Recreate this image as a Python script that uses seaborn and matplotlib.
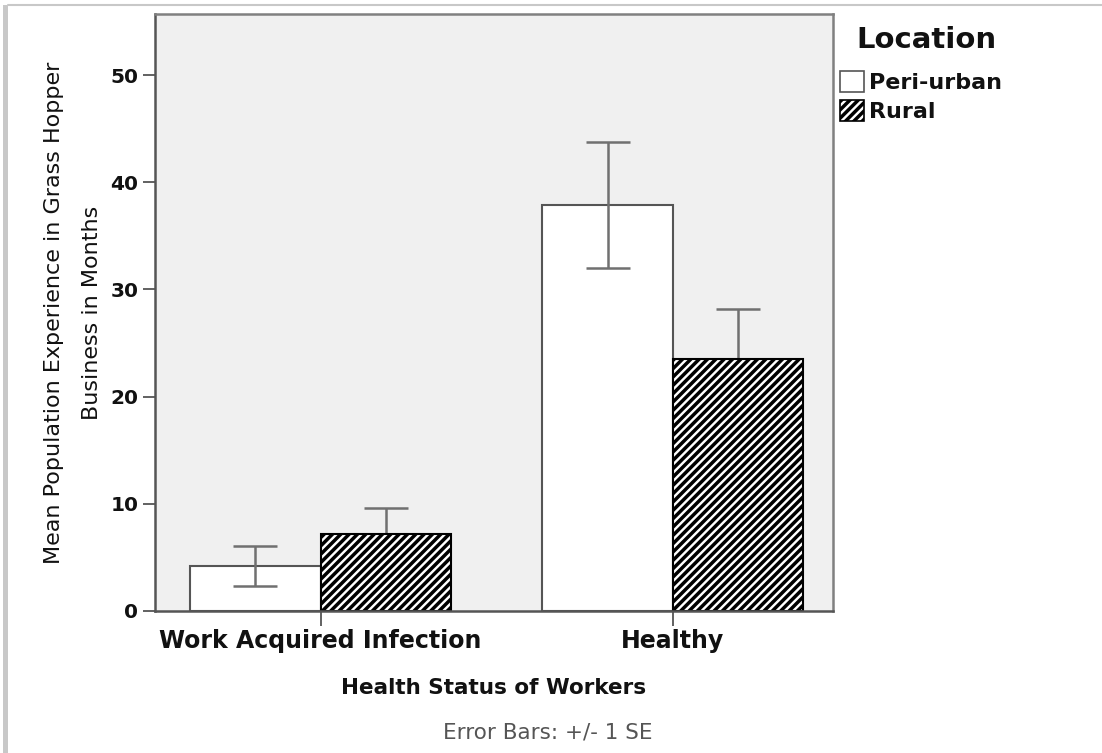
import numpy as np
import pandas as pd
import matplotlib
matplotlib.use("Agg")
import matplotlib.pyplot as plt
import seaborn as sns
from matplotlib.patches import Patch, Rectangle
from matplotlib.lines import Line2D

status=["Work Acquired Infection", "Healthy"]
locations=["Peri-urban", "Rural"]
peri_mean=[4.2, 37.9]
peri_se=[1.9, 5.9]
rural_mean=[7.2, 23.5]
rural_se=[2.4, 4.7]

df=pd.DataFrame({
    "status": status*2,
    "location": [locations[0]]*2+[locations[1]]*2,
    "mean": peri_mean+rural_mean,
    "se": peri_se+rural_se,
})

sns.set_style("white")
plt.rcParams["font.family"]=["DejaVu Sans"]
plt.rcParams["hatch.linewidth"]=2.5
plt.rcParams["text.color"]="#111111"
plt.rcParams["axes.labelcolor"]="#111111"
plt.rcParams["xtick.labelcolor"]="#111111"
plt.rcParams["ytick.labelcolor"]="#111111"

fig=plt.figure(figsize=(11.02,7.53), dpi=100)
ax=fig.add_axes([0.1407, 0.1886, 0.6152, 0.7928])
ax.set_facecolor("#f0f0f0")

sns.barplot(
    data=df, x="status", y="mean", hue="location",
    order=status, hue_order=locations,
    palette=["white", "white"], width=0.74, errorbar=None,
    edgecolor="#555555", linewidth=1.5, legend=False, ax=ax
)

# hatch the rural bars, then add +/- 1 SE bars from the patch positions
n=len(status)
for i, p in enumerate(ax.patches[:2*n]):
    row=df.iloc[i]
    z=5
    if row["location"]=="Rural":
        p.set_hatch("////")
        p.set_edgecolor("black")
        z=0.5
    xc=p.get_x()+p.get_width()/2
    ax.errorbar(xc, row["mean"], yerr=row["se"], fmt="none",
                ecolor="#707070", elinewidth=1.8, capsize=16, capthick=1.8, zorder=z)

ax.set_xlim(-0.47, 1.455)
ax.set_ylim(0, 55.7)
ax.set_yticks([0,10,20,30,40,50])
ax.tick_params(axis="y", direction="out", length=9, width=1.3, color="#555555",
               labelsize=14.5, pad=3, left=True)
ax.tick_params(axis="x", direction="out", length=11, width=1.3, color="#555555",
               labelsize=17, pad=2, bottom=True)
for lab in ax.get_yticklabels()+ax.get_xticklabels():
    lab.set_fontweight("bold")

for s in ax.spines.values():
    s.set_color("#808080")
    s.set_linewidth(1.8)
ax.spines["left"].set_color("#555555")
ax.spines["bottom"].set_color("#555555")

ax.set_xlabel("Health Status of Workers", fontsize=15.5, fontweight="bold", labelpad=18)
ax.set_ylabel("Mean Population Experience in Grass Hopper\nBusiness in Months",
              fontsize=16, labelpad=6, linespacing=2.1)

fig.text(926/1102, 1-40/753, "Location", ha="center", va="center",
         fontsize=21, fontweight="bold")
handles=[Patch(facecolor="white", edgecolor="#555555", linewidth=1.2),
         Patch(facecolor="white", edgecolor="black", hatch="////", linewidth=1.2)]
leg=fig.legend(handles, locations, loc="upper left", bbox_to_anchor=(0.7623, 0.906),
               frameon=False, fontsize=16, handlelength=1.1,
               handleheight=1.1, handletextpad=0.2, labelspacing=0.3, borderaxespad=0,
               borderpad=0)
for t in leg.get_texts():
    t.set_fontweight("bold")

fig.text(0.497, 0.027, "Error Bars: +/- 1 SE", ha="center", va="center",
         fontsize=15.5, color="#555555")

# image frame
fig.add_artist(Line2D([0.007, 1], [0.994, 0.994], color="#c8c8c8", lw=1.5))
fig.add_artist(Rectangle((0.003, 0), 0.004, 0.994, color="#c8c8c8", lw=0))

fig.savefig("out.png", dpi=100)
